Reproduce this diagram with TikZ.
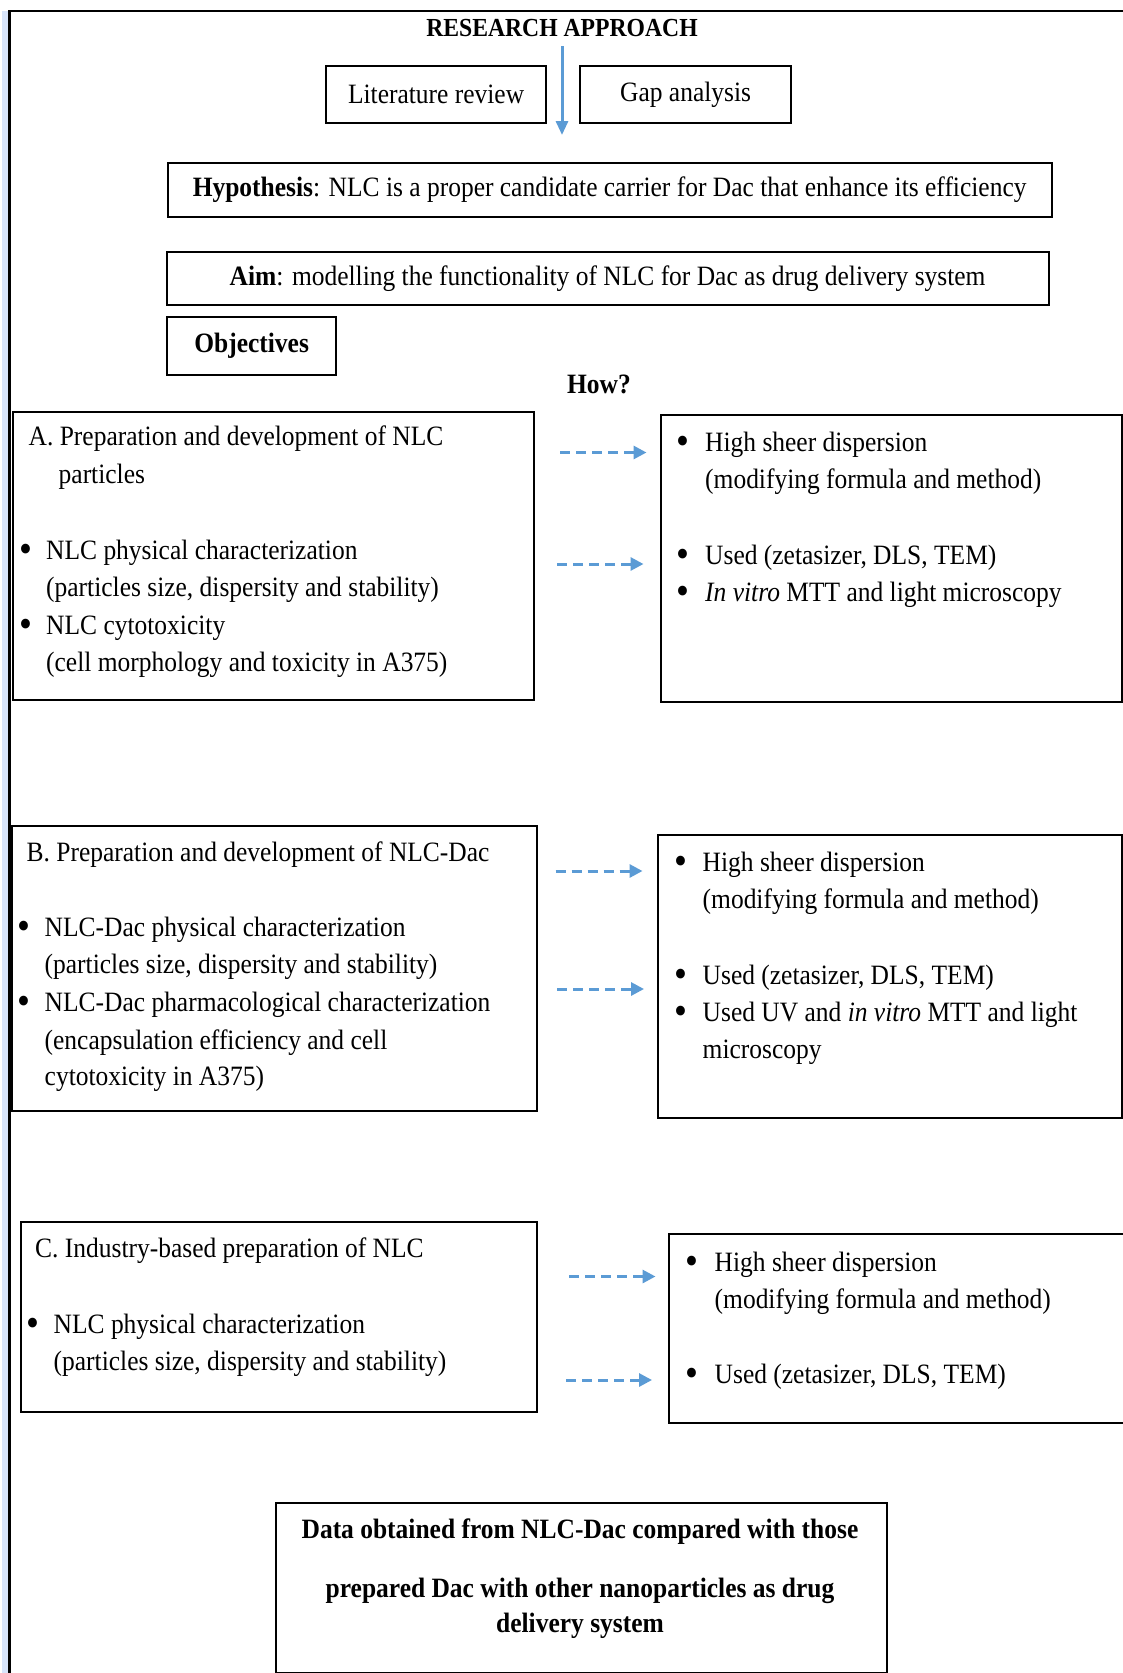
\documentclass[tikz,border=0pt]{standalone}
\usepackage{fontspec}
\setmainfont{Liberation Serif}[FakeStretch=0.91]
\usetikzlibrary{arrows.meta}
\newcommand{\fsz}{\fontsize{28}{37}\selectfont}
\newcommand{\bul}{\raisebox{-3pt}{\scalebox{1.45}{•}}}
\definecolor{arrblue}{RGB}{91,155,213}
\definecolor{glow}{RGB}{215,228,250}
\tikzset{
  box/.style={draw=black, line width=2.2pt, fill=white, inner sep=0pt, anchor=north west},
  tbox/.style={draw=black, line width=2.2pt, inner sep=0pt, font=\fsz},
  txt/.style={anchor=base west, inner sep=0pt, font=\fsz},
  btxt/.style={anchor=base, inner sep=0pt, font=\fsz\bfseries},
  dasharrow/.style={draw=arrblue, line width=3pt, dash pattern=on 10pt off 6pt, -{Triangle[length=13pt,width=13pt]}},
  mainarrow/.style={draw=arrblue, line width=3pt, -{Triangle[length=14pt,width=12pt]}}
}
\begin{document}
\begin{tikzpicture}[x=1pt,y=-1pt]
\path[use as bounding box] (0,0) rectangle (1123,1673);
\clip (0,0) rectangle (1123,1673);
\fill[white] (0,0) rectangle (1123,1673);
% outer frame
\fill[glow] (2,11) rectangle (8,1673);
\draw[line width=2.5pt, black] (9.5,1673) -- (9.5,11) -- (1130,11);

% title and top boxes
\node[inner sep=0pt, anchor=base, font=\fontsize{26}{30}\selectfont\bfseries] (title) at (562,36.5) {RESEARCH APPROACH};
\node[tbox, minimum width=220pt, minimum height=57pt, anchor=north west] (lit) at (325,65) {Literature review};
\node[tbox, minimum width=211pt, minimum height=57pt, anchor=north west] (gap) at (579,65) {Gap analysis};
\coordinate (vtop) at (562,46);
\coordinate (vbot) at (562,135);
\draw[mainarrow] (vtop) -- (vbot);

\node[tbox, minimum width=884pt, minimum height=54pt, anchor=north west] (hyp) at (166.5,162) {\textbf{Hypothesis}: NLC is a proper candidate carrier for Dac that enhance its efficiency};
\node[tbox, minimum width=882pt, minimum height=53pt, anchor=north west] (aim) at (165.5,251) {\textbf{Aim}: modelling the functionality of NLC for Dac as drug delivery system};
\node[tbox, minimum width=169pt, minimum height=58pt, anchor=north west, font=\fsz\bfseries] (obj) at (166,316) {Objectives};
\node[btxt] (how) at (599,393) {How?};

% ---------- A ----------
\node[box, minimum width=521pt, minimum height=288pt] (A) at (12,411) {};
\node[box, minimum width=461pt, minimum height=287pt] (AR) at (660,414) {};
\node[txt] (a1) at (28.5,445) {A. Preparation and development of NLC};
\node[txt] (a2) at (58.5,483) {particles};
\node[txt] (ab1) at (19,559.5) {\bul};
\node[txt] (a3) at (46,559.5) {NLC physical characterization};
\node[txt] (a4) at (46,596.5) {(particles size, dispersity and stability)};
\node[txt] (ab2) at (19,634) {\bul};
\node[txt] (a5) at (46,634) {NLC cytotoxicity};
\node[txt] (a6) at (46,671) {(cell morphology and toxicity in A375)};

\node[txt] (arb1) at (676,451) {\bul};
\node[txt] (ar1) at (705,451) {High sheer dispersion};
\node[txt] (ar2) at (705,488.5) {(modifying formula and method)};
\node[txt] (arb2) at (676,564) {\bul};
\node[txt] (ar3) at (705,564) {Used (zetasizer, DLS, TEM)};
\node[txt] (arb3) at (676,601.5) {\bul};
\node[txt] (ar4) at (705,601.5) {\textit{In vitro} MTT and light microscopy};

\coordinate (as1) at (560,452.5);
\coordinate (ae1) at (646.5,452.5);
\coordinate (as2) at (557,564);
\coordinate (ae2) at (643.5,564);
\draw[dasharrow] (as1) -- (ae1);
\draw[dasharrow] (as2) -- (ae2);

% ---------- B ----------
\node[box, minimum width=525pt, minimum height=285pt] (B) at (10.5,825) {};
\node[box, minimum width=464pt, minimum height=283pt] (BR) at (657,833.5) {};
\node[txt] (b1) at (26.5,861) {B. Preparation and development of NLC-Dac};
\node[txt] (bb1) at (17.5,936.5) {\bul};
\node[txt] (b2) at (44.5,936.5) {NLC-Dac physical characterization};
\node[txt] (b3) at (44.5,973.5) {(particles size, dispersity and stability)};
\node[txt] (bb2) at (17.5,1011.5) {\bul};
\node[txt] (b4) at (44.5,1011.5) {NLC-Dac pharmacological characterization};
\node[txt] (b5) at (44.5,1049) {(encapsulation efficiency and cell};
\node[txt] (b6) at (44.5,1085.5) {cytotoxicity in A375)};

\node[txt] (brb1) at (674,871) {\bul};
\node[txt] (br1) at (702.5,871) {High sheer dispersion};
\node[txt] (br2) at (702.5,908.5) {(modifying formula and method)};
\node[txt] (brb2) at (674,984.5) {\bul};
\node[txt] (br3) at (702.5,984.5) {Used (zetasizer, DLS, TEM)};
\node[txt] (brb3) at (674,1021.5) {\bul};
\node[txt] (br4) at (702.5,1021.5) {Used UV and \textit{in vitro} MTT and light};
\node[txt] (br5) at (702.5,1058.5) {microscopy};

\coordinate (bs1) at (555.5,871);
\coordinate (be1) at (642.5,871);
\coordinate (bs2) at (557,989);
\coordinate (be2) at (644,989);
\draw[dasharrow] (bs1) -- (be1);
\draw[dasharrow] (bs2) -- (be2);

% ---------- C ----------
\node[box, minimum width=515.5pt, minimum height=189.5pt] (C) at (20,1221) {};
\node[box, minimum width=470pt, minimum height=188.5pt] (CR) at (668,1233) {};
\node[txt] (c1) at (35,1257) {C. Industry-based preparation of NLC};
\node[txt] (cb1) at (26,1333) {\bul};
\node[txt] (c2) at (53.5,1333) {NLC physical characterization};
\node[txt] (c3) at (53.5,1370) {(particles size, dispersity and stability)};

\node[txt] (crb1) at (685.5,1271.5) {\bul};
\node[txt] (cr1) at (714.5,1271.5) {High sheer dispersion};
\node[txt] (cr2) at (714.5,1308.5) {(modifying formula and method)};
\node[txt] (crb2) at (685.5,1383.5) {\bul};
\node[txt] (cr3) at (714.5,1383.5) {Used (zetasizer, DLS, TEM)};

\coordinate (cs1) at (569,1276.5);
\coordinate (ce1) at (655.5,1276.5);
\coordinate (cs2) at (566,1380);
\coordinate (ce2) at (652,1380);
\draw[dasharrow] (cs1) -- (ce1);
\draw[dasharrow] (cs2) -- (ce2);

% ---------- final ----------
\node[box, minimum width=611.5pt, minimum height=169.5pt] (D) at (274.5,1502) {};
\node[btxt] (d1) at (580,1538.5) {Data obtained from NLC-Dac compared with those};
\node[btxt] (d2) at (580,1597) {prepared Dac with other nanoparticles as drug};
\node[btxt] (d3) at (580,1632) {delivery system};
\end{tikzpicture}
\end{document}
